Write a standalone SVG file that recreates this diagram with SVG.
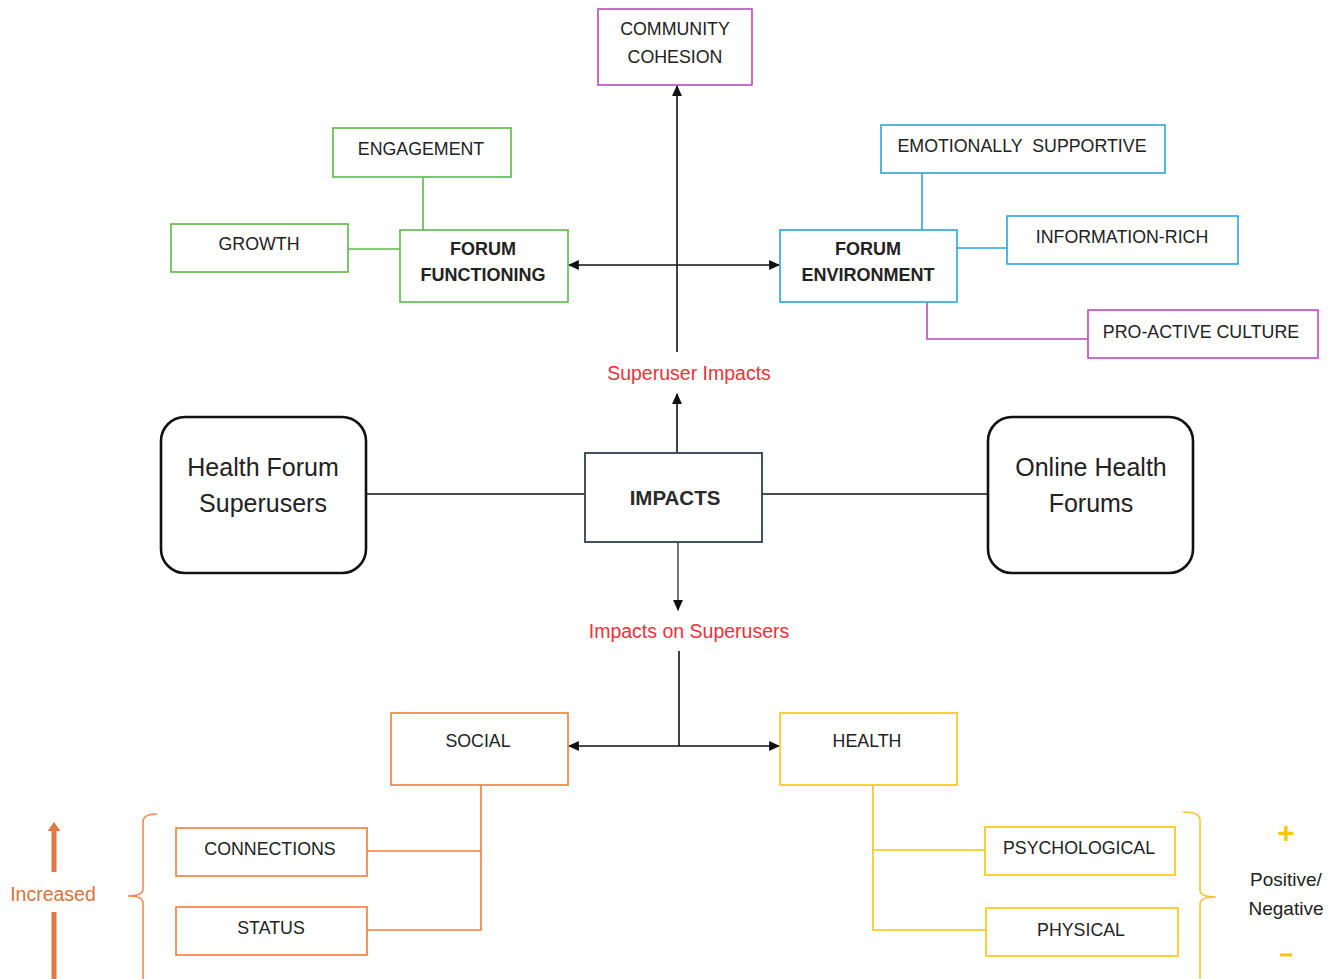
<svg xmlns="http://www.w3.org/2000/svg" width="1337" height="979" viewBox="0 0 1337 979">
<style>
  text { font-family: "Liberation Sans", Arial, sans-serif; fill: #222; text-anchor: middle; }
  .t { font-size: 17.8px; }
  .tb { font-size: 18px; font-weight: bold; }
  .big { font-size: 25px; }
  .red { font-size: 19.5px; fill: #f0303a; }
  .box { fill: #fff; stroke-width: 1.6; }
  .green { stroke: #5cb84a; }
  .blue { stroke: #2aa6dc; }
  .purple { stroke: #b94ab9; }
  .orange { stroke: #ef7d3c; }
  .yellow { stroke: #fcc30a; }
  .ln { fill: none; stroke-width: 1.6; }
  .arr { fill: none; stroke: #111; stroke-width: 1.6; }
  .main { fill: #fff; stroke: #111; stroke-width: 2.6; }
</style>
<defs>
  <marker id="ah" viewBox="0 0 10 10" refX="9" refY="5" markerWidth="11" markerHeight="11" orient="auto-start-reverse" markerUnits="userSpaceOnUse">
    <path d="M0,0.5 L10,5 L0,9.5 z" fill="#111"/>
  </marker>
</defs>

<!-- connectors -->
<g id="connectors">
  <!-- upper axis -->
  <line class="arr" x1="677" y1="352" x2="677" y2="86" marker-end="url(#ah)"/>
  <line class="arr" x1="569" y1="265" x2="779" y2="265" marker-start="url(#ah)" marker-end="url(#ah)"/>
  <line class="arr" x1="677" y1="452" x2="677" y2="394" marker-end="url(#ah)"/>
  <!-- central line -->
  <line class="arr" x1="366" y1="494" x2="585" y2="494" stroke="#333"/>
  <line class="arr" x1="762" y1="494" x2="988" y2="494" stroke="#333"/>
  <line x1="678" y1="542" x2="678" y2="610" stroke="#666" stroke-width="1.8" marker-end="url(#ah)"/>
  <!-- lower axis -->
  <line class="arr" x1="679" y1="651" x2="679" y2="746"/>
  <line class="arr" x1="569" y1="746" x2="779" y2="746" marker-start="url(#ah)" marker-end="url(#ah)"/>
  <!-- forum functioning branches -->
  <polyline class="ln green" points="423,177 423,230"/>
  <polyline class="ln green" points="348,249 400,249"/>
  <!-- forum environment branches -->
  <polyline class="ln blue" points="922,173 922,230"/>
  <polyline class="ln blue" points="957,248 1007,248"/>
  <polyline class="ln purple" points="927,302 927,339 1088,339"/>
  <!-- social branches -->
  <polyline class="ln orange" points="481,785 481,930 367,930"/>
  <polyline class="ln orange" points="481,851 367,851"/>
  <!-- health branches -->
  <polyline class="ln yellow" points="873,785 873,930 986,930"/>
  <polyline class="ln yellow" points="873,850 985,850"/>
</g>

<!-- top node -->
<g id="community-cohesion">
  <rect class="box purple" x="598" y="9" width="154" height="76"/>
  <text class="t" x="675" y="35">COMMUNITY</text>
  <text class="t" x="675" y="63">COHESION</text>
</g>

<!-- forum functioning cluster -->
<g id="engagement">
  <rect class="box green" x="333" y="128" width="178" height="49"/>
  <text class="t" x="421" y="155">ENGAGEMENT</text>
</g>
<g id="growth">
  <rect class="box green" x="171" y="224" width="177" height="48"/>
  <text class="t" x="259" y="250">GROWTH</text>
</g>
<g id="forum-functioning">
  <rect class="box green" x="400" y="230" width="168" height="72"/>
  <text class="tb" x="483" y="255">FORUM</text>
  <text class="tb" x="483" y="281">FUNCTIONING</text>
</g>

<!-- forum environment cluster -->
<g id="forum-environment">
  <rect class="box blue" x="780" y="230" width="177" height="72"/>
  <text class="tb" x="868" y="255">FORUM</text>
  <text class="tb" x="868" y="281">ENVIRONMENT</text>
</g>
<g id="emotionally-supportive">
  <rect class="box blue" x="881" y="125" width="284" height="48"/>
  <text class="t" x="1022" y="152" xml:space="preserve">EMOTIONALLY  SUPPORTIVE</text>
</g>
<g id="information-rich">
  <rect class="box blue" x="1007" y="216" width="231" height="48"/>
  <text class="t" x="1122" y="243">INFORMATION-RICH</text>
</g>
<g id="pro-active-culture">
  <rect class="box purple" x="1088" y="310" width="230" height="48"/>
  <text class="t" x="1201" y="338">PRO-ACTIVE CULTURE</text>
</g>

<!-- axis labels -->
<text class="red" x="689" y="380">Superuser Impacts</text>
<text class="red" x="689" y="638">Impacts on Superusers</text>

<!-- central row -->
<g id="health-forum-superusers">
  <rect class="main" x="161" y="417" width="205" height="156" rx="24"/>
  <text class="big" x="263" y="476">Health Forum</text>
  <text class="big" x="263" y="512">Superusers</text>
</g>
<g id="impacts">
  <rect x="585" y="453" width="177" height="89" fill="#fff" stroke="#2e4052" stroke-width="1.8"/>
  <text x="675" y="505" font-size="20.5" font-weight="bold" style="fill:#2a2a2a">IMPACTS</text>
</g>
<g id="online-health-forums">
  <rect class="main" x="988" y="417" width="205" height="156" rx="24"/>
  <text class="big" x="1091" y="476">Online Health</text>
  <text class="big" x="1091" y="512">Forums</text>
</g>

<!-- lower cluster -->
<g id="social">
  <rect class="box orange" x="391" y="713" width="177" height="72"/>
  <text class="t" x="478" y="747">SOCIAL</text>
</g>
<g id="health">
  <rect class="box yellow" x="780" y="713" width="177" height="72"/>
  <text class="t" x="867" y="747">HEALTH</text>
</g>
<g id="connections">
  <rect class="box orange" x="176" y="828" width="191" height="48"/>
  <text class="t" x="270" y="855">CONNECTIONS</text>
</g>
<g id="status">
  <rect class="box orange" x="176" y="907" width="191" height="48"/>
  <text class="t" x="271" y="934">STATUS</text>
</g>
<g id="psychological">
  <rect class="box yellow" x="985" y="827" width="190" height="48"/>
  <text class="t" x="1079" y="854">PSYCHOLOGICAL</text>
</g>
<g id="physical">
  <rect class="box yellow" x="986" y="908" width="192" height="48"/>
  <text class="t" x="1081" y="936">PHYSICAL</text>
</g>

<!-- social scale: brace and "Increased" arrow -->
<g id="increased-scale">
  <path d="M157,814 Q143,814 143,822 L143,889 Q143,896 128,896 Q143,896 143,903 L143,979" fill="none" stroke="#ef8a55" stroke-width="1.6"/>
  <line x1="54" y1="872" x2="54" y2="830" stroke="#e07a45" stroke-width="5"/>
  <path d="M47.5,831 L54,822 L60.5,831 z" fill="#e07a45"/>
  <line x1="54" y1="912" x2="54" y2="979" stroke="#e07a45" stroke-width="5"/>
  <text x="53" y="901" font-size="19.5" style="fill:#d9733d">Increased</text>
</g>

<!-- health scale: brace and positive/negative -->
<g id="valence-scale">
  <path d="M1183,812 Q1200,812 1200,820 L1200,890 Q1200,897 1216,897 Q1200,897 1200,904 L1200,979" fill="none" stroke="#fcc52a" stroke-width="1.6"/>
  <text x="1286" y="843" font-size="30" font-weight="bold" style="fill:#fcc30a">+</text>
  <text x="1286" y="886" font-size="19">Positive/</text>
  <text x="1286" y="915" font-size="19">Negative</text>
  <line x1="1280" y1="955" x2="1292" y2="955" stroke="#fcc30a" stroke-width="3"/>
</g>
</svg>
